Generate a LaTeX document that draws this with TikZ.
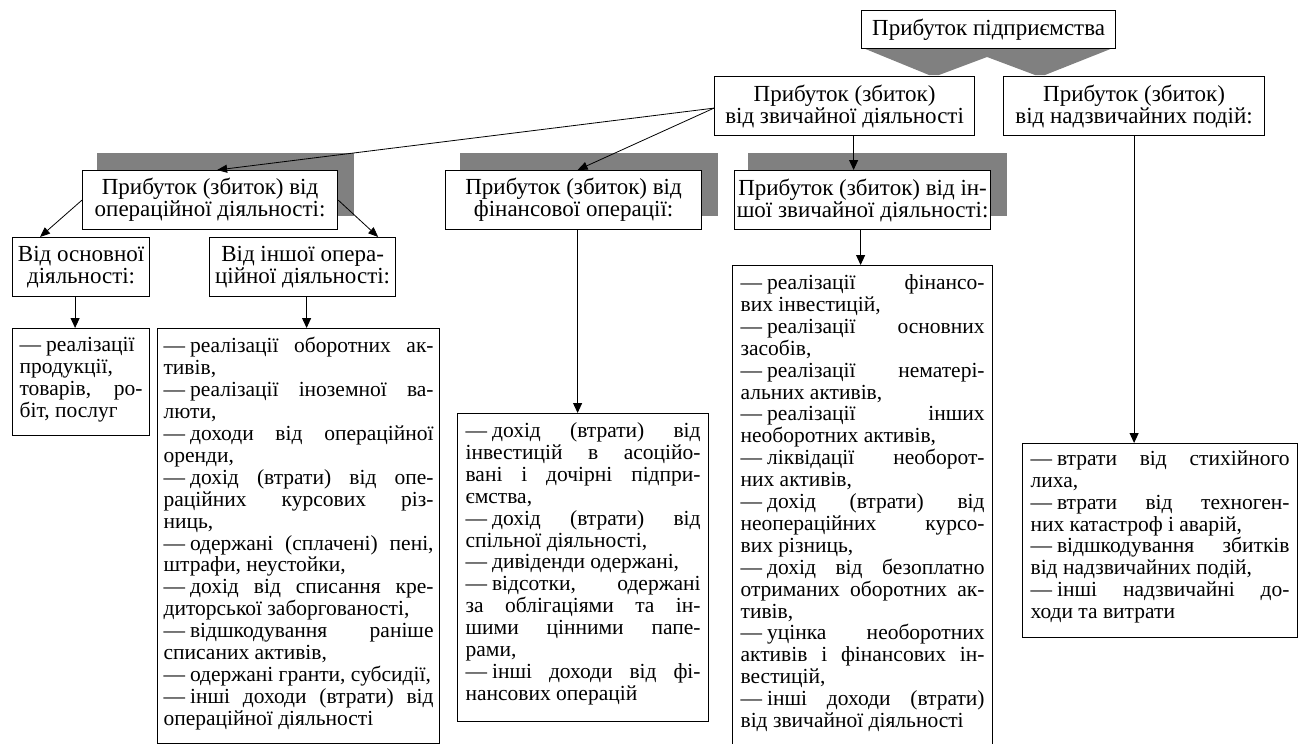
\documentclass[tikz,border=0pt]{standalone}
\usepackage{fontspec}
\setmainfont{Liberation Serif}
\usetikzlibrary{arrows.meta}
\definecolor{shade}{HTML}{808080}
\newcommand\J[1]{\makebox[\linewidth][s]{#1}\par}
\newcommand\N[1]{\mbox{#1}\par}
\newcommand\D{—\hspace{5pt}}
\newcommand\lfont{\fontsize{21.5}{21.9}\selectfont}
\tikzset{
  hbox/.style={draw, fill=white, line width=1.2pt, inner sep=2pt, align=center,
    anchor=north west, font=\fontsize{23}{21.9}\selectfont},
  lbox/.style={draw, fill=white, line width=1.2pt, inner xsep=8pt, inner ysep=9pt,
    anchor=north west, font=\lfont},
  arr/.style={-{Triangle[length=10pt,width=9pt]}, line width=1pt},
  thinarr/.style={-{Triangle[length=10pt,width=8pt]}, line width=0.8pt},
  shadowbox/.style={fill=shade}
}
\begin{document}
\begin{tikzpicture}[x=1pt,y=-1pt]
\useasboundingbox (0,0) rectangle (1304,744);
% shadows
\fill[shadowbox] (97,153) rectangle (354,216);
\fill[shadowbox] (460,153) rectangle (718,216);
\fill[shadowbox] (748,153) rectangle (1007,216);
\fill[shadowbox] (863,48) -- (1113,48) -- (1045,75) -- (1035,75) -- (987,57) -- (939,75) -- (929,75) -- cycle;
% header boxes
\node[hbox, minimum width=254pt, minimum height=38pt] (top) at (861,10) {Прибуток підприємства};
\node[hbox, minimum width=260pt, minimum height=59pt] (ord) at (714,76) {Прибуток (збиток)\\від звичайної діяльності};
\node[hbox, minimum width=261pt, minimum height=59pt] (ext) at (1003,76) {Прибуток (збиток)\\від надзвичайних подій:};
\node[hbox, minimum width=255pt, minimum height=59pt] (op) at (82,170) {Прибуток (збиток) від\\операційної діяльності:};
\node[hbox, minimum width=256pt, minimum height=59pt] (fin) at (445,170) {Прибуток (збиток) від\\фінансової операції:};
\node[hbox, minimum width=256pt, minimum height=59pt] (oth) at (734,170) {Прибуток (збиток) від ін-\\шої звичайної діяльності:};
\node[hbox, minimum width=137pt, minimum height=59pt] (basic) at (12,237) {Від основної\\діяльності:};
\node[hbox, minimum width=186pt, minimum height=59pt] (otherop) at (209,237) {Від іншої опера-\\ційної діяльності:};
% list boxes
\node[lbox, inner xsep=7pt] (list1) at (12,328) {\parbox[c][89pt][t]{123pt}{\lfont
\J{\D реалізації}
\N{продукції,}
\J{товарів, ро-}
\N{біт, послуг}}};
\node[lbox, inner xsep=6pt] (list2) at (157,328) {\parbox[c][397pt][t]{270pt}{\lfont
\J{\D реалізації оборотних ак-}
\N{тивів,}
\J{\D реалізації іноземної ва-}
\N{люти,}
\J{\D доходи від операційної}
\N{оренди,}
\J{\D дохід (втрати) від опе-}
\J{раційних курсових різ-}
\N{ниць,}
\J{\D одержані (сплачені) пені,}
\N{штрафи, неустойки,}
\J{\D дохід від списання кре-}
\N{диторської заборгованості,}
\J{\D відшкодування раніше}
\N{списаних активів,}
\N{\D одержані гранти, субсидії,}
\J{\D інші доходи (втрати) від}
\N{операційної діяльності}}};
\node[lbox] (finlist) at (457,413) {\parbox[c][290pt][t]{235pt}{\lfont
\J{\D дохід (втрати) від}
\J{інвестицій в асоційо-}
\J{вані і дочірні підпри-}
\N{ємства,}
\J{\D дохід (втрати) від}
\N{спільної діяльності,}
\N{\D дивіденди одержані,}
\J{\D відсотки, одержані}
\J{за облігаціями та ін-}
\J{шими цінними папе-}
\N{рами,}
\J{\D інші доходи від фі-}
\N{нансових операцій}}};
\node[lbox] (othlist) at (732,265) {\parbox[c][477pt][t]{244pt}{\lfont
\J{\D реалізації фінансо-}
\N{вих інвестицій,}
\J{\D реалізації основних}
\N{засобів,}
\J{\D реалізації нематері-}
\N{альних активів,}
\J{\D реалізації інших}
\N{необоротних активів,}
\J{\D ліквідації необорот-}
\N{них активів,}
\J{\D дохід (втрати) від}
\J{неопераційних курсо-}
\N{вих різниць,}
\J{\D дохід від безоплатно}
\J{отриманих оборотних ак-}
\N{тивів,}
\J{\D уцінка необоротних}
\J{активів і фінансових ін-}
\N{вестицій,}
\J{\D інші доходи (втрати)}
\N{від звичайної діяльності}}};
\node[lbox, inner ysep=7pt] (extlist) at (1022,443) {\parbox[c][180pt][t]{259pt}{\lfont
\J{\D втрати від стихійного}
\N{лиха,}
\J{\D втрати від техноген-}
\N{них катастроф і аварій,}
\J{\D відшкодування збитків}
\N{від надзвичайних подій,}
\J{\D інші надзвичайні до-}
\N{ходи та витрати}}};
% connectors
\draw[thinarr] ([yshift=-2pt]ord.west) -- ([xshift=7pt]op.north);
\draw[thinarr] ([yshift=-2pt]ord.west) -- ([xshift=4pt]fin.north);
\draw[arr] ([xshift=9pt]ord.south) -- ([xshift=9pt]ord.south |- oth.north);
\draw[arr] (ext.south) -- (ext.south |- extlist.north);
\draw[thinarr] (op.west) -- ([xshift=28pt]basic.north west);
\draw[thinarr] (op.east) -- ([xshift=-18pt]otherop.north east);
\draw[arr] ([xshift=-6pt]basic.south) -- ([xshift=-6pt]basic.south |- list1.north);
\draw[arr] ([xshift=4pt]otherop.south) -- ([xshift=4pt]otherop.south |- list2.north);
\draw[arr] ([xshift=4pt]fin.south) -- ([xshift=4pt]fin.south |- finlist.north);
\draw[arr] ([xshift=-2pt]oth.south) -- ([xshift=-2pt]oth.south |- othlist.north);
\end{tikzpicture}
\end{document}
